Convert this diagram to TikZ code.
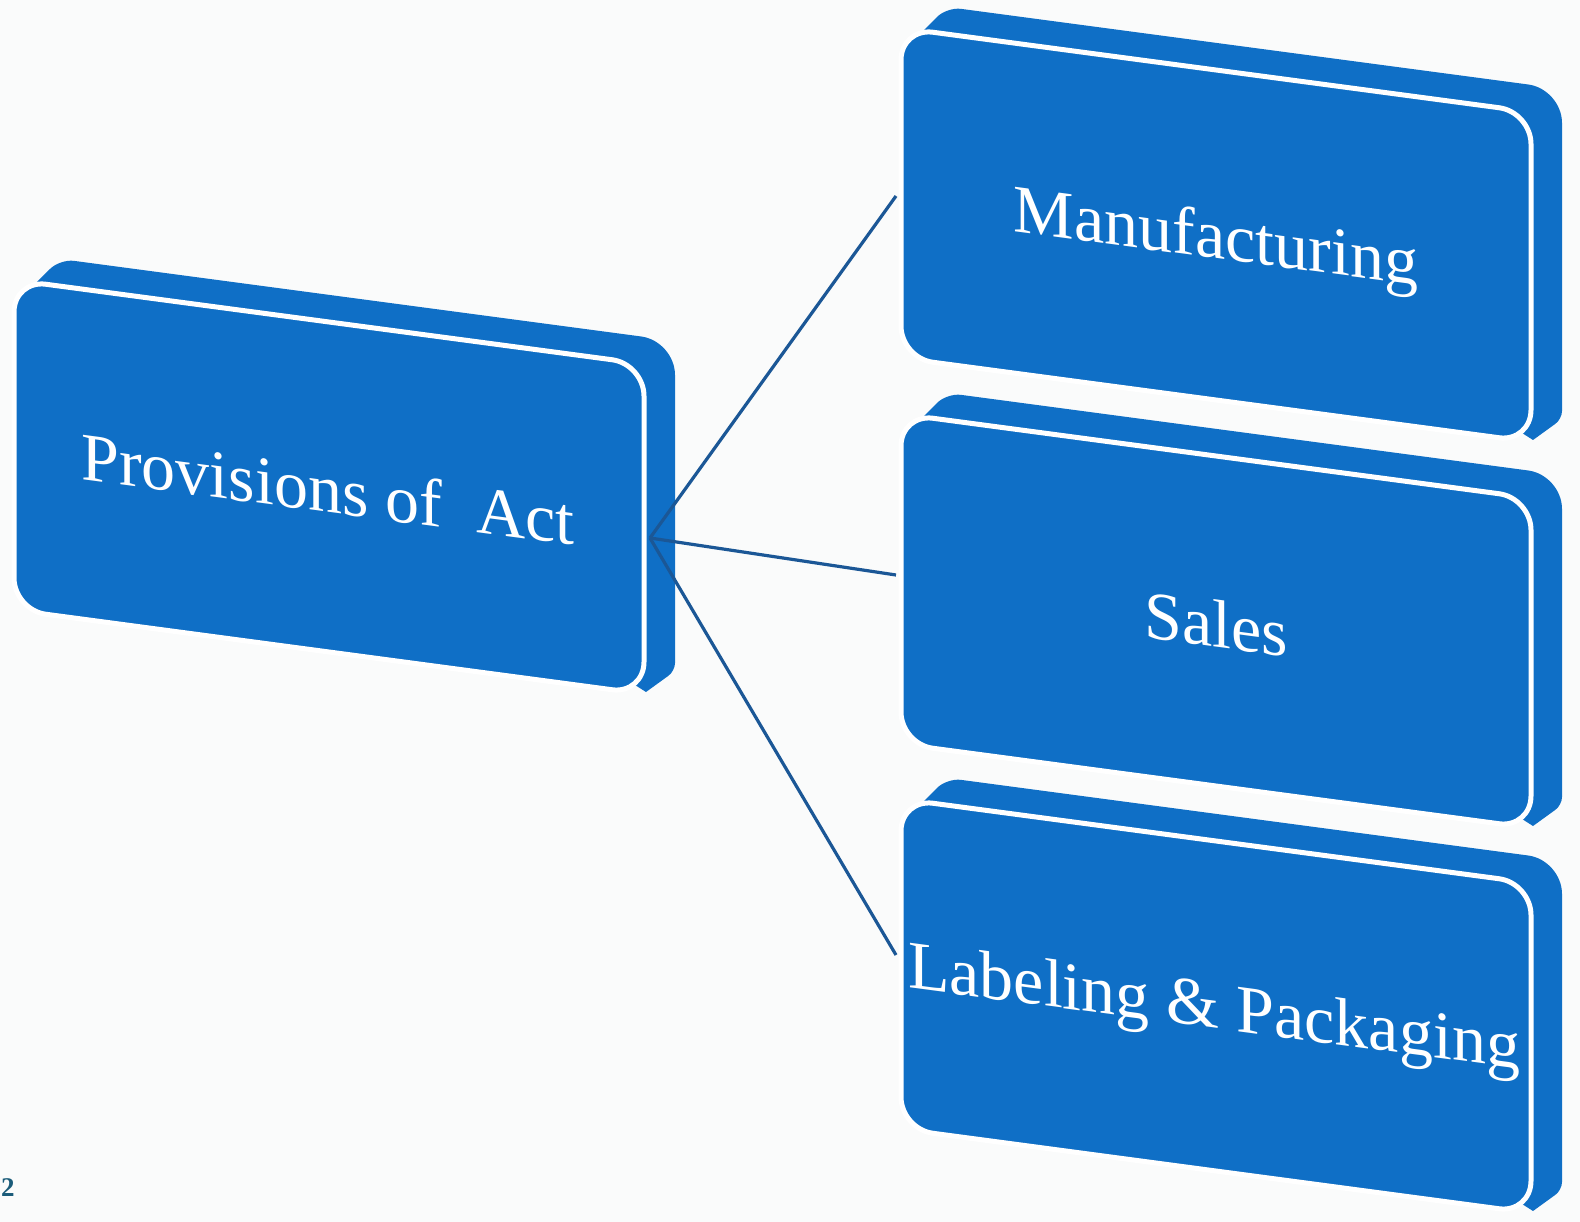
\documentclass[tikz,border=0pt]{standalone}
\usepackage{fontspec}
\setmainfont{Liberation Serif}
\definecolor{blockblue}{HTML}{0F6FC6}
\definecolor{linkblue}{HTML}{1B5796}
\definecolor{bgcol}{HTML}{FAFBFB}
\definecolor{pagecol}{HTML}{1B5C7A}
\tikzset{
  sidebox/.style={fill=blockblue, draw=none},
  frontbox/.style={fill=blockblue, draw=white, line width=5pt, rounded corners=32pt},
  blocktext/.style={text=white, font=\fontsize{68}{72}\selectfont, inner sep=0pt, yslant=-0.133},
  link/.style={draw=linkblue, line width=3.2pt},
  pagenum/.style={text=pagecol, font=\fontsize{27}{30}\selectfont\bfseries, inner sep=0pt}
}
\newcommand{\drawblock}[2]{%
  \begin{scope}[shift={(#1,#2)}]
    \path[sidebox, rounded corners=14pt] (22,3) -- (46,-21) [rounded corners=34pt] -- (661,61) [rounded corners=8pt] -- (661,391) [rounded corners=0pt] -- (632,412) -- (300,200) -- cycle;
    \path[frontbox] (0,0) -- (630,84) -- (630,414) -- (0,330) -- cycle;
  \end{scope}}
\begin{document}
\begin{tikzpicture}[x=1pt,y=-1pt]
  \useasboundingbox (0,0) rectangle (1580,1222);
  \fill[bgcol] (0,0) rectangle (1580,1222);
  \drawblock{14}{280}
  \drawblock{901}{28}
  \drawblock{901}{414}
  \drawblock{901}{799}
  \node[blocktext] (prov) at (328,489) {Provisions of\ \ Act};
  \node[blocktext] (manu) at (1216,242) {Manufacturing};
  \node[blocktext] (sales) at (1216,624) {Sales};
  \node[blocktext] (label) at (1214,1012) {Labeling \& Packaging};
  \coordinate (hub) at (650,538);
  \coordinate (manuin) at (896,196);
  \coordinate (salesin) at (896,575);
  \coordinate (labelin) at (896,955);
  \draw[link] (hub) -- (manuin);
  \draw[link] (hub) -- (salesin);
  \draw[link] (hub) -- (labelin);
  \node[pagenum] (pg) at (8,1188) {2};
\end{tikzpicture}
\end{document}
